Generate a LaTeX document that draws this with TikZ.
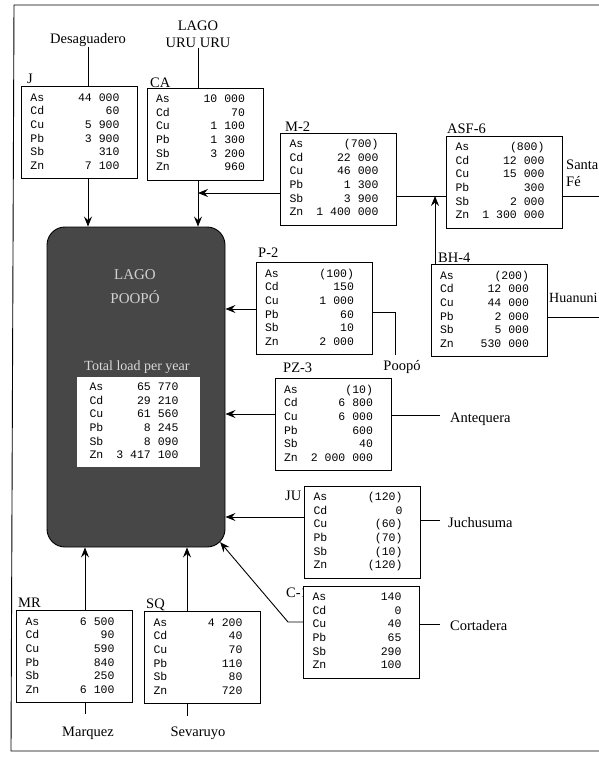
\documentclass[tikz,border=0pt]{standalone}
\usepackage{fontspec}
\usepackage{array}
\setmainfont{Liberation Serif}
\newfontfamily\monofnt{Liberation Mono}
\usetikzlibrary{arrows.meta,calc}
\newcommand\tbl[1]{{\monofnt\fontsize{11.5}{13.6}\selectfont\begin{tabular}{@{}p{22pt}@{}>{\raggedleft\arraybackslash}p{67pt}@{\hspace{9pt}}}#1\end{tabular}}}
\tikzset{
 box/.style={draw, line width=0.9pt, fill=white, minimum width=116pt, minimum height=92pt, inner sep=0pt},
 lbl/.style={font=\fontsize{14.5}{16}\selectfont, inner sep=0pt, anchor=base west},
 place/.style={font=\fontsize{14.5}{17}\selectfont, inner sep=0pt},
 ln/.style={line width=0.9pt},
 arr/.style={line width=0.9pt, -{Stealth[length=10pt,width=8pt,inset=3.5pt]}},
}
\begin{document}
\begin{tikzpicture}[x=1pt,y=-1pt]
\useasboundingbox (0,0) rectangle (599,760);
% outer frame
\draw[ln] (599,5) -- (14,5) -- (11,751) -- (599,751);

% lake
\node[draw, line width=0.9pt, fill=black!72, rounded corners=18pt, minimum width=178pt, minimum height=320pt, inner sep=0pt] (lake) at (136,387) {};
\node[font=\fontsize{15}{17}\selectfont, text=black!18] (lago) at (135,275) {LAGO};
\node[font=\fontsize{15}{17}\selectfont, text=black!18] (poopo) at (135,297) {POOPÓ};
\node[font=\fontsize{14}{16}\selectfont, text=black!15] (totl) at (137,367) {Total load per year};
\node[fill=white, minimum width=123pt, minimum height=90pt, inner sep=0pt] (total) at (138.5,422) {\tbl{As & 65 770\\ Cd & 29 210\\ Cu & 61 560\\ Pb & 8 245\\ Sb & 8 090\\ Zn & 3 417 100}};

% station boxes
\node[lbl] (Jl) at (27,84) {J};
\node[box] (J) at (79.5,132.5) {\tbl{As & 44 000\\ Cd & 60\\ Cu & 5 900\\ Pb & 3 900\\ Sb & 310\\ Zn & 7 100}};
\node[lbl] (CAl) at (150,88) {CA};
\node[box] (CA) at (205,134) {\tbl{As & 10 000\\ Cd & 70\\ Cu & 1 100\\ Pb & 1 300\\ Sb & 3 200\\ Zn & 960}};
\node[lbl] (M2l) at (285,131) {M-2};
\node[box] (M2) at (338.5,179) {\tbl{As & (700)\\ Cd & 22 000\\ Cu & 46 000\\ Pb & 1 300\\ Sb & 3 900\\ Zn & 1 400 000}};
\node[lbl] (ASFl) at (447,133) {ASF-6};
\node[box] (ASF) at (504.5,182) {\tbl{As & (800)\\ Cd & 12 000\\ Cu & 15 000\\ Pb & 300\\ Sb & 2 000\\ Zn & 1 300 000}};
\node[lbl] (P2l) at (258,257) {P-2};
\node[box] (P2) at (314,308.5) {\tbl{As & (100)\\ Cd & 150\\ Cu & 1 000\\ Pb & 60\\ Sb & 10\\ Zn & 2 000}};
\node[lbl] (BHl) at (438,262) {BH-4};
\node[box] (BH) at (489,310.5) {\tbl{As & (200)\\ Cd & 12 000\\ Cu & 44 000\\ Pb & 2 000\\ Sb & 5 000\\ Zn & 530 000}};
\node[lbl] (PZl) at (283,372) {PZ-3};
\node[box] (PZ) at (333,424.5) {\tbl{As & (10)\\ Cd & 6 800\\ Cu & 6 000\\ Pb & 600\\ Sb & 40\\ Zn & 2 000 000}};
\node[lbl] (JUl) at (285,500) {JU};
\node[box] (JU) at (362.5,532) {\tbl{As & (120)\\ Cd & 0\\ Cu & (60)\\ Pb & (70)\\ Sb & (10)\\ Zn & (120)}};
\node[lbl] (C1l) at (286,597) {C-1};
\node[box] (C1) at (361.5,632) {\tbl{As & 140\\ Cd & 0\\ Cu & 40\\ Pb & 65\\ Sb & 290\\ Zn & 100}};
\node[lbl] (MRl) at (18,607) {MR};
\node[box] (MR) at (74.5,656.5) {\tbl{As & 6 500\\ Cd & 90\\ Cu & 590\\ Pb & 840\\ Sb & 250\\ Zn & 6 100}};
\node[lbl] (SQl) at (146,608) {SQ};
\node[box] (SQ) at (202.5,657.5) {\tbl{As & 4 200\\ Cd & 40\\ Cu & 70\\ Pb & 110\\ Sb & 80\\ Zn & 720}};

% place names
\node[place] (desag) at (88,40) {Desaguadero};
\node[place, align=center] (uru) at (198,34) {LAGO\\URU URU};
\node[place, align=left, anchor=north west] (santa) at (566,160) {Santa\\Fé};
\node[place, anchor=west, font=\fontsize{14}{16}\selectfont] (huan) at (549,298) {Huanuni};
\node[place] (poop) at (402,367) {Poopó};
\node[place, anchor=west] (ante) at (450,419) {Antequera};
\node[place, anchor=west] (juch) at (448,523) {Juchusuma};
\node[place, anchor=west] (cort) at (450,626) {Cortadera};
\node[place] (marq) at (88,733) {Marquez};
\node[place] (seva) at (198,733) {Sevaruyo};

% coordinates
\coordinate (j1) at (198,193);
\coordinate (j2) at (435,196);
\coordinate (sfend) at (599,196);
\coordinate (huend) at (599,317);
\coordinate (pbend) at (395,312);
\coordinate (pzend) at (440,415);
\coordinate (juend) at (440,520);
\coordinate (c1end) at (440,624);
\coordinate (c1k) at (288,622);
\coordinate (mrx) at (85,0);
\coordinate (sqx) at (187,0);
\coordinate (mrb) at (85,714);
\coordinate (sqb) at (187,716);

% connectors
\draw[ln] (desag.south) -- (desag.south |- J.north);
\draw[arr] (desag.south |- J.south) -- (desag.south |- lake.north);
\draw[ln] (uru.south) -- (uru.south |- CA.north);
\draw[arr] (uru.south |- CA.south) -- (uru.south |- lake.north);
\draw[arr] (M2.west |- j1) -- (j1);
\draw[ln] (M2.east |- j2) -- (ASF.west |- j2);
\draw[arr] (j2 |- BH.north) -- (j2);
\draw[ln] (ASF.east |- sfend) -- (sfend);
\draw[ln] (BH.east |- huend) -- (huend);
\draw[arr] ($(P2.west)+(0,0.5)$) -- (lake.east |- {$(P2.west)+(0,0.5)$});
\draw[ln] (P2.east |- pbend) -- (pbend) -- ++(0,43);
\draw[arr] (PZ.west |- 0,414) -- (lake.east |- 0,414);
\draw[ln] (PZ.east |- pzend) -- (pzend);
\draw[arr] (JU.west |- 0,517) -- (lake.east |- 0,517);
\draw[ln] (JU.east |- juend) -- (juend);
\draw[arr] (C1.west |- c1k) -- (c1k) -- ($(lake.south east)+(-5.3,-5.3)$);
\draw[ln] (C1.east |- c1end) -- (c1end);
\draw[arr] (mrx |- MR.north) -- (mrx |- lake.south);
\draw[ln] (mrx |- MR.south) -- (mrb);
\draw[arr] (sqx |- SQ.north) -- (sqx |- lake.south);
\draw[ln] (sqx |- SQ.south) -- (sqb);
\end{tikzpicture}
\end{document}
